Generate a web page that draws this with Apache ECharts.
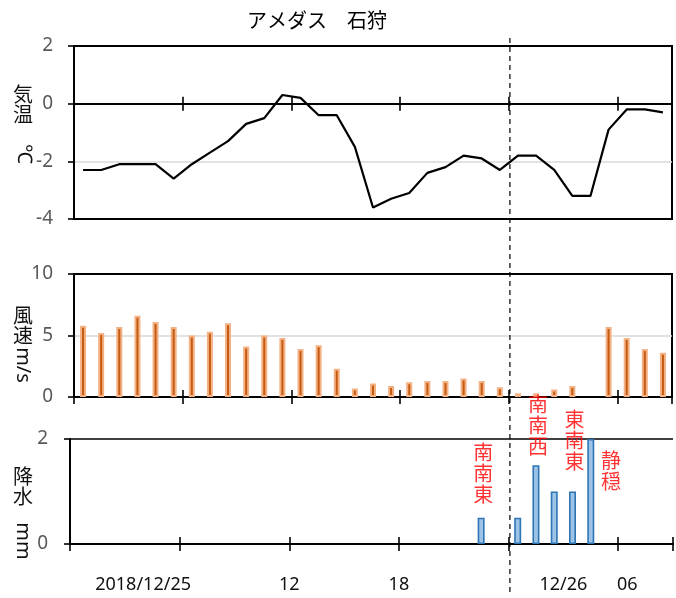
<!DOCTYPE html>
<html><head><meta charset="utf-8">
<script src="https://cdn.jsdelivr.net/npm/echarts@6/dist/echarts.min.js"></script>
<style>html,body{margin:0;padding:0;background:#fff}#c{width:676px;height:598px}</style>
</head><body><div id="c"></div>
<script>
// hourly observations: 2018/12/25 01時 ... 2018/12/26 09時
const hours = ['12/25 01','12/25 02','12/25 03','12/25 04','12/25 05','12/25 06','12/25 07','12/25 08',
  '12/25 09','12/25 10','12/25 11','12/25 12','12/25 13','12/25 14','12/25 15','12/25 16',
  '12/25 17','12/25 18','12/25 19','12/25 20','12/25 21','12/25 22','12/25 23','12/25 24',
  '12/26 01','12/26 02','12/26 03','12/26 04','12/26 05','12/26 06','12/26 07','12/26 08','12/26 09'];
const temperature = [-2.3,-2.3,-2.1,-2.1,-2.1,-2.6,-2.1,-1.7,-1.3,-0.7,-0.5,0.3,0.2,-0.4,-0.4,-1.5,
  -3.6,-3.3,-3.1,-2.4,-2.2,-1.8,-1.9,-2.3,-1.8,-1.8,-2.3,-3.2,-3.2,-0.9,-0.2,-0.2,-0.3];
const windSpeed = [5.8,5.2,5.7,6.6,6.1,5.7,5.0,5.3,6.0,4.1,5.0,4.8,3.9,4.2,2.3,0.7,
  1.1,0.9,1.2,1.3,1.3,1.5,1.3,0.8,0.3,0.3,0.6,0.9,0,5.7,4.8,3.9,3.6];
const precipitation = [0,0,0,0,0,0,0,0,0,0,0,0,0,0,0,0,
  0,0,0,0,0,0,0.5,0,0.5,1.5,1.0,1.0,2.0,0,0,0,0];
const dirLabels = ['南南東','南南西','東南東','静穏'];
const dirHourIndex = [22,25,27,29];
const dirLabelLevel = [1.31,2.22,1.93,1.35];
const xTickLabels = ['2018/12/25','12','18','12/26','06'];
const xTickBoundary = [4,12,18,27,30.5];   // in hours from the left edge

// half-hour steps along the bottom panel for label placement
const halfSteps = [];
for (let i = 0; i <= hours.length * 2; i++) halfSteps.push(String(i / 2));

const FONT = 'Noto Sans, Noto Sans CJK JP, sans-serif';
const LW = 2;
const tickEvery6 = (i) => i % 6 === 0;
const nonZero = (arr) => arr.map(v => v > 0 ? v : '-');

function crossAxes(grid, yIdx, onZero) {
  return [
    { type:'category', gridIndex:grid, data:hours, boundaryGap:true, position:'bottom',
      axisLine:{show:true, onZero:onZero, onZeroAxisIndex:yIdx, lineStyle:{color:'#000', width:LW}},
      axisTick:{show:true, inside:false, length:7, interval:tickEvery6, lineStyle:{color:'#000', width:1.6}},
      axisLabel:{show:false}, splitLine:{show:false} },
    { type:'category', gridIndex:grid, data:hours, boundaryGap:true, position:'bottom',
      axisLine:{show:false, onZero:onZero, onZeroAxisIndex:yIdx},
      axisTick:{show:true, inside:true, length:7, interval:tickEvery6, lineStyle:{color:'#000', width:1.6}},
      axisLabel:{show:false}, splitLine:{show:false} }
  ];
}

function yAx(grid, min, max, interval, splitColors, margin) {
  return { type:'value', gridIndex:grid, min:min, max:max, interval:interval,
    axisLine:{show:true, lineStyle:{color:'#000', width:LW}},
    axisTick:{show:true, inside:false, length:6, lineStyle:{color:'#000', width:1.6}},
    axisLabel:{color:'#595959', fontSize:19, fontFamily:FONT, margin:margin},
    splitLine:{show:true, lineStyle:{color:splitColors, width:1.5}} };
}

const chart = echarts.init(document.getElementById('c'), null, {renderer:'canvas'});
const xAxes = [].concat(crossAxes(0, 0, true), crossAxes(1, 1, false), crossAxes(2, 2, false));
xAxes.push({ type:'category', gridIndex:2, data:halfSteps, boundaryGap:false, position:'bottom',
  axisLine:{show:false, onZero:false}, axisTick:{show:false}, splitLine:{show:false},
  axisLabel:{show:true, interval:0, margin:32, color:'#111', fontSize:18, fontFamily:FONT,
    formatter:(v, i) => { const k = xTickBoundary.indexOf(i / 2); return k >= 0 ? xTickLabels[k] : ''; }} });

const option = {
  animation:false,
  backgroundColor:'#fff',
  title:{ text:'アメダス　石狩', left:242, top:7,
    textStyle:{fontSize:20, fontWeight:'normal', color:'#000', fontFamily:FONT} },
  grid:[
    {left:74, top:46, width:598, height:173, show:true, borderColor:'#000', borderWidth:LW, backgroundColor:'transparent'},
    {left:74, top:274, width:598, height:123, show:true, borderColor:'#000', borderWidth:LW, backgroundColor:'transparent'},
    {left:70, top:439, width:609, height:105}
  ],
  xAxis: xAxes,
  yAxis:[
    yAx(0, -4, 2, 2, ['#000','#d9d9d9','#000','#000'], 21),
    yAx(1, 0, 10, 5, ['#000','#d9d9d9','#000'], 21),
    yAx(2, 0, 2, 2, ['#000','#000'], 22)
  ],
  series:[
    { type:'line', xAxisIndex:0, yAxisIndex:0, data:temperature, symbol:'none',
      lineStyle:{color:'#000', width:2.2}, z:5 },
    { type:'bar', xAxisIndex:2, yAxisIndex:1, data:nonZero(windSpeed), barWidth:6,
      itemStyle:{color:'#C55A11', borderColor:'#F4B183', borderWidth:2} },
    { type:'bar', xAxisIndex:4, yAxisIndex:2, data:nonZero(precipitation), barWidth:7,
      itemStyle:{color:'#9DC3E6', borderColor:'#2E75B6', borderWidth:1.6} },
    { type:'scatter', xAxisIndex:4, yAxisIndex:2, symbolSize:0, clip:false, z:6,
      data: dirLabels.map((t, i) => ({ value:[dirHourIndex[i], dirLabelLevel[i]], name:t })),
      label:{ show:true, position:'inside', color:'#FF0000', fontSize:20, lineHeight:21, fontFamily:FONT,
        offset:[2,0], formatter:(p) => p.name.split('').join('\n') } }
  ]
};
chart.setOption(option);

function nameText(txt, x, y, rot) {
  return { type:'text', x:x, y:y, rotation:rot || 0,
    style:{ text:txt, fontSize:20, fontFamily:FONT, fill:'#111', align:'center', verticalAlign:'middle' } };
}
const xa = chart.convertToPixel({xAxisIndex:0}, 23);
const xb = chart.convertToPixel({xAxisIndex:0}, 24);
const midX = (xa + xb) / 2 + 1;
chart.setOption({ graphic:[
  nameText('気', 23, 96), nameText('温', 23, 116), nameText('℃', 24, 154, -Math.PI/2),
  nameText('風', 23, 317), nameText('速', 23, 337), nameText('m/s', 23, 365, -Math.PI/2),
  nameText('降', 23, 478), nameText('水', 23, 498), nameText('mm', 23, 541, -Math.PI/2),
  { type:'line', shape:{x1:midX, y1:38, x2:midX, y2:592}, z:10,
    style:{stroke:'#000', lineWidth:1.2, lineDash:[5,4]} }
]});
</script></body></html>
